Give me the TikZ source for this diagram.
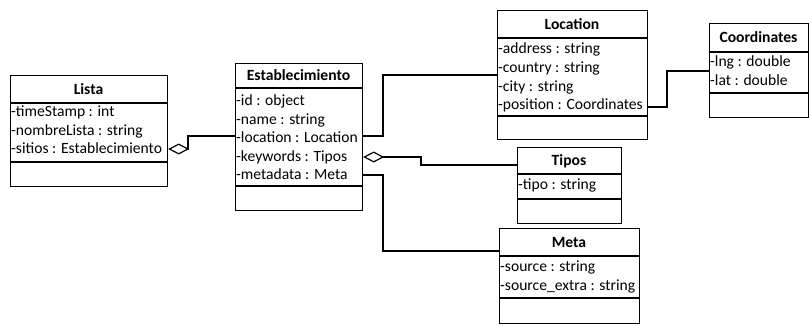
\documentclass[tikz,border=0pt]{standalone}
\usepackage{fontspec}
\setmainfont{Carlito}
\usetikzlibrary{arrows.meta}

\newcommand{\diagfont}{\fontsize{15.6}{18}\selectfont}

\tikzset{
  boxline/.style={line width=1.2pt, draw=black},
  classbox/.style={boxline, rectangle, inner sep=0pt, anchor=north west},
  classtitle/.style={font=\diagfont\bfseries, inner sep=0pt, anchor=base},
  attr/.style={font=\diagfont, inner sep=0pt, anchor=base west},
  link/.style={boxline, line join=miter},
  aggr/.style={link, {Diamond[open, length=21pt, width=11pt, line width=1.2pt]}-},
}

% #1 name, #2 left, #3 top, #4 right, #5 title bottom, #6 attributes bottom, #7 bottom, #8 title
\newcommand{\umlclass}[8]{%
  \node[classbox, minimum width={#4pt-#2pt}, minimum height={#7pt-#3pt}] (#1) at (#2,#3) {};
  \draw[boxline] (#2,#5) -- (#4,#5) (#2,#6) -- (#4,#6);
  \node[classtitle] (#1-title) at ({(#2+#4)/2},{(#3+#5)/2+5}) {#8};
}
% #1 node name, #2 left, #3 row centre, #4 text
\newcommand{\umlattr}[4]{%
  \node[attr] (#1) at (#2+1,#3+4.5) {#4};
}

\begin{document}
\begin{tikzpicture}[x=1pt, y=-1pt]
\useasboundingbox (0,0) rectangle (809,325);

% Lista
\umlclass{lista}{10}{75}{167}{103}{162}{186}{Lista}
\umlattr{lista-a1}{10}{112}{-timeStamp : int}
\umlattr{lista-a2}{10}{130.5}{-nombreLista : string}
\umlattr{lista-a3}{10}{149}{-sitios : Establecimiento}

% Establecimiento
\umlclass{estab}{235}{63}{362}{88}{186}{210}{Establecimiento}
\umlattr{estab-a1}{235}{101}{-id : object}
\umlattr{estab-a2}{235}{119.5}{-name : string}
\umlattr{estab-a3}{235}{138}{-location : Location}
\umlattr{estab-a4}{235}{156.5}{-keywords : Tipos}
\umlattr{estab-a5}{235}{175}{-metadata : Meta}

% Location
\umlclass{loc}{497}{10}{647}{38}{116}{139}{Location}
\umlattr{loc-a1}{497}{49}{-address : string}
\umlattr{loc-a2}{497}{68}{-country : string}
\umlattr{loc-a3}{497}{86.5}{-city : string}
\umlattr{loc-a4}{497}{105}{-position : Coordinates}

% Coordinates
\umlclass{coord}{709}{23}{808}{52}{93}{117}{Coordinates}
\umlattr{coord-a1}{709}{62}{-lng : double}
\umlattr{coord-a2}{709}{81}{-lat : double}

% Tipos
\umlclass{tipos}{517}{147}{621}{174}{199}{223}{Tipos}
\umlattr{tipos-a1}{517}{185}{-tipo : string}

% Meta
\umlclass{meta}{499}{228}{639}{256}{298}{323}{Meta}
\umlattr{meta-a1}{499}{267}{-source : string}
\umlattr{meta-a2}{499}{285.5}{-source\_extra : string}

% Connectors
\coordinate (c-lista) at (lista.east |- 0,149);
\draw[aggr] (c-lista) -- (188,149) |- (estab.west |- 0,136);

\coordinate (c-loc) at (estab.east |- 0,136);
\draw[link] (c-loc) -| (383,75) -- (loc.west |- 0,75);

\coordinate (c-coord) at (loc.east |- 0,107);
\draw[link] (c-coord) -| (667,71) -- (coord.west |- 0,71);

\coordinate (c-tipos) at (estab.east |- 0,157);
\draw[aggr] (c-tipos) -- (421,157) |- (tipos.west |- 0,165);

\coordinate (c-meta) at (estab.east |- 0,175);
\draw[link] (c-meta) -| (383,251) -- (meta.west |- 0,251);

\end{tikzpicture}
\end{document}
